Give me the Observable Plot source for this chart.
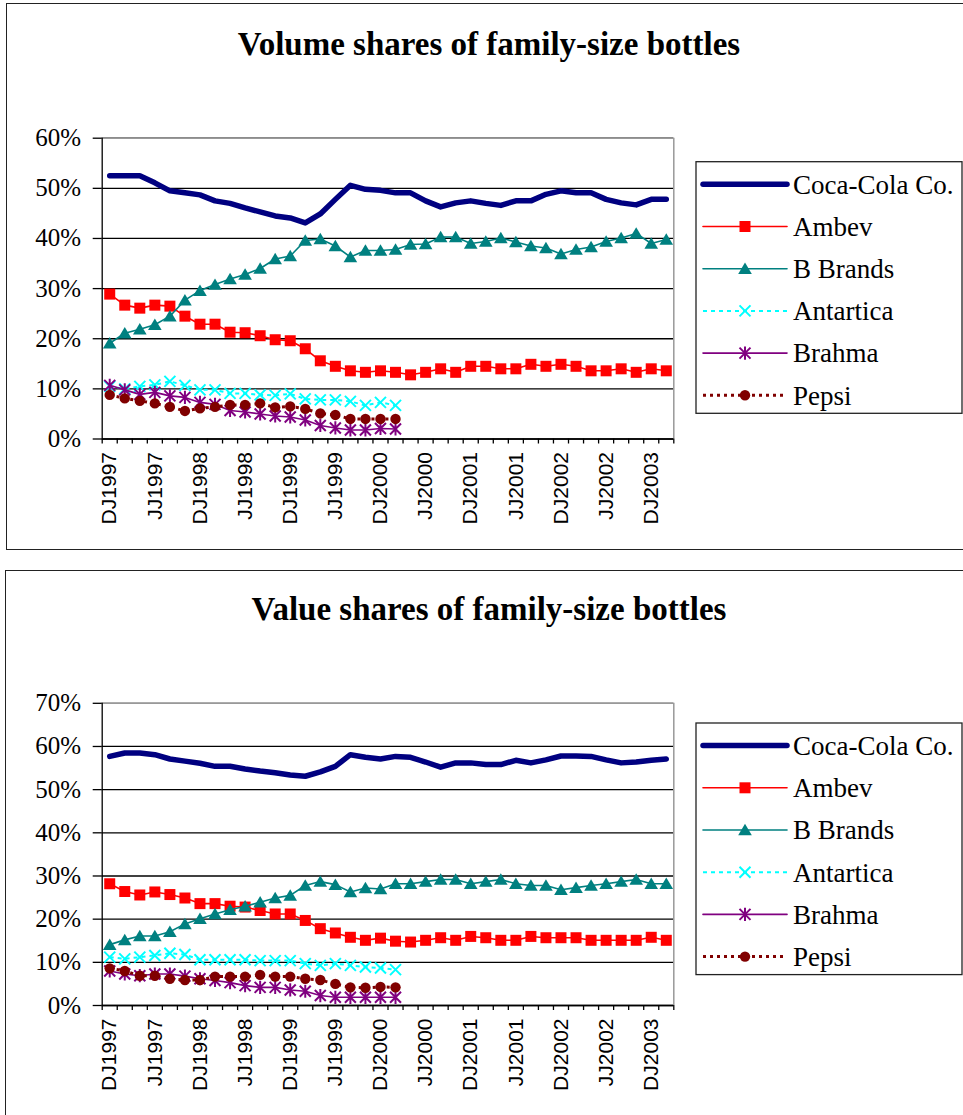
<!DOCTYPE html>
<html>
<head>
<meta charset="utf-8">
<script src="https://cdn.jsdelivr.net/npm/d3@7"></script>
<script src="https://cdn.jsdelivr.net/npm/@observablehq/plot@0.6"></script>
<style>
  html, body { margin: 0; padding: 0; background: #fff; }
  body { width: 963px; height: 1115px; position: relative; overflow: hidden; }
  .panel { position: absolute; border: 1.5px solid #222; background: #fff; box-sizing: border-box; }
  .chart { position: absolute; left: 0; }
  #overlay { position: absolute; left: 0; top: 0; pointer-events: none; }
</style>
</head>
<body>
<div class="panel" style="left:6px;top:3px;width:968px;height:547px;"></div>
<div class="panel" style="left:5px;top:570px;width:968px;height:560px;"></div>
<div id="c1" class="chart" style="top:100px;"></div>
<div id="c2" class="chart" style="top:670px;"></div>
<svg id="overlay" width="963" height="1115"></svg>
<script>
// ---------- data ----------
const categories = [
  "DJ1997","FM1997","AM1997","JJ1997","AS1997","ON1997",
  "DJ1998","FM1998","AM1998","JJ1998","AS1998","ON1998",
  "DJ1999","FM1999","AM1999","JJ1999","AS1999","ON1999",
  "DJ2000","FM2000","AM2000","JJ2000","AS2000","ON2000",
  "DJ2001","FM2001","AM2001","JJ2001","AS2001","ON2001",
  "DJ2002","FM2002","AM2002","JJ2002","AS2002","ON2002",
  "DJ2003","FM2003"
];
const seriesNames = ["Coca-Cola Co.", "Ambev", "B Brands", "Antartica", "Brahma", "Pepsi"];

// Volume shares (%)
const volCoca = [52.5,52.5,52.5,51.1,49.5,49.1,48.7,47.5,47.0,46.1,45.3,44.5,44.1,43.1,44.9,47.8,50.6,49.8,49.6,
                 49.1,49.1,47.5,46.3,47.1,47.5,47.0,46.6,47.5,47.5,48.8,49.5,49.1,49.1,47.8,47.1,46.7,47.8,47.8];
const volAmbev = [28.9,26.7,26.1,26.7,26.5,24.5,22.9,22.9,21.3,21.2,20.6,19.8,19.6,18.0,15.6,14.5,13.6,13.3,13.6,
                  13.3,12.8,13.3,14.0,13.3,14.5,14.5,14.0,14.0,14.9,14.5,14.9,14.5,13.6,13.6,14.0,13.3,14.0,13.6];
const volBBrands = [19.1,21.1,21.9,22.8,24.5,27.7,29.6,30.8,31.9,32.8,34.0,35.9,36.5,39.6,39.9,38.5,36.3,37.6,37.6,
                    37.8,38.8,38.9,40.3,40.3,39.0,39.4,40.1,39.3,38.5,38.1,36.9,37.8,38.3,39.4,40.1,41.0,39.0,39.8];
const volAntartica = [10.5,10.0,10.5,10.8,11.5,10.7,9.8,9.8,9.1,9.1,8.8,8.7,9.0,8.0,7.8,7.8,7.5,6.7,7.3,6.7];
const volBrahma = [10.7,9.8,8.9,9.3,8.6,8.3,7.3,6.9,5.7,5.4,5.0,4.6,4.4,3.8,2.7,2.2,1.8,1.8,2.1,2.0];
const volPepsi = [8.8,8.1,7.6,7.1,6.4,5.6,6.1,6.4,6.8,6.8,7.1,6.3,6.5,6.0,5.1,4.8,4.0,4.0,4.0,4.0];

// Value shares (%)
const valCoca = [57.7,58.5,58.5,58.1,57.1,56.6,56.1,55.4,55.4,54.8,54.3,53.9,53.4,53.1,54.1,55.4,58.1,57.5,57.1,
                 57.7,57.5,56.4,55.2,56.2,56.2,55.8,55.8,56.8,56.2,56.9,57.8,57.8,57.7,56.9,56.2,56.4,56.8,57.1];
const valAmbev = [28.2,26.4,25.6,26.3,25.7,24.9,23.6,23.6,23.0,22.8,22.0,21.2,21.2,19.7,17.8,16.8,15.8,15.1,15.6,
                  14.9,14.7,15.1,15.7,15.1,16.0,15.7,15.1,15.1,16.0,15.7,15.7,15.7,15.1,15.1,15.1,15.1,15.8,15.1];
const valBBrands = [14.1,15.2,16.1,16.1,17.1,18.9,20.1,21.2,22.2,23.0,23.9,24.9,25.5,27.8,28.7,28.0,26.3,27.2,27.0,
                    28.2,28.2,28.7,29.2,29.2,28.2,28.7,29.2,28.2,27.8,27.8,26.8,27.3,27.8,28.2,28.7,29.2,28.2,28.2];
const valAntartica = [11.2,10.8,11.2,11.6,12.1,11.8,10.6,10.6,10.6,10.6,10.4,10.4,10.4,9.7,9.3,9.7,9.3,8.9,8.7,8.3];
const valBrahma = [8.0,7.3,6.9,7.3,7.3,6.8,6.2,5.8,5.3,4.6,4.2,4.2,3.6,3.3,2.3,1.9,1.9,1.9,1.9,1.9];
const valPepsi = [8.6,8.0,6.9,6.9,6.2,5.9,5.9,6.7,6.7,6.7,7.1,6.7,6.7,6.2,5.9,5.0,4.2,4.1,4.3,4.2];

// ---------- marker symbols (Excel-like) ----------
const unit = size => Math.sqrt(size / Math.PI);
const symSquare = { draw(c, size) { const s = unit(size); c.moveTo(-s,-s); c.lineTo(s,-s); c.lineTo(s,s); c.lineTo(-s,s); c.closePath(); } };
const symTriangle = { draw(c, size) { const s = unit(size); c.moveTo(0,-s); c.lineTo(s*1.1,s*0.85); c.lineTo(-s*1.1,s*0.85); c.closePath(); } };
const symTimes = { draw(c, size) { const s = unit(size); c.moveTo(-s,-s); c.lineTo(s,s); c.moveTo(-s,s); c.lineTo(s,-s); } };
const symStar = { draw(c, size) { const s = unit(size); c.moveTo(-s,-s); c.lineTo(s,s); c.moveTo(-s,s); c.lineTo(s,-s); c.moveTo(0,-s*1.2); c.lineTo(0,s*1.2); } };
const symCircle = { draw(c, size) { const s = unit(size); c.moveTo(s,0); c.arc(0,0,s,0,2*Math.PI); } };

const styles = [
  { color: "#000080", width: 5.5, dash: null, symbol: null },
  { color: "#FF0000", width: 1.6, dash: null, symbol: symSquare, r: 5.5, filled: true },
  { color: "#008080", width: 1.6, dash: null, symbol: symTriangle, r: 6.2, filled: true },
  { color: "#00FFFF", width: 2, dash: "4,4", symbol: symTimes, r: 5.5, filled: false },
  { color: "#800080", width: 1.6, dash: null, symbol: symStar, r: 5.5, filled: false },
  { color: "#800000", width: 3, dash: "3,4", symbol: symCircle, r: 5.2, filled: true }
];

const SERIF = "'Liberation Serif', 'DejaVu Serif', serif";
const SANS = "'Liberation Sans', Arial, sans-serif";

function rows(values) { return values.map((v, i) => ({ i, v })); }

function makeChart({ series, yMax, height, marginTop, marginBottom }) {
  const yTicks = d3.range(0, yMax + 1, 10);
  const boundaries = d3.range(categories.length + 1).map(i => i - 0.5);
  const labelTicks = d3.range(0, categories.length, 3);
  const marks = [
    Plot.gridY(yTicks, { stroke: "#000", strokeOpacity: 1, strokeWidth: 1.3 }),
    Plot.ruleY([yMax], { stroke: "#999", strokeWidth: 1.5 }),
    Plot.ruleX([categories.length - 0.5], { stroke: "#999", strokeWidth: 1.5 }),
    Plot.ruleX([-0.5], { stroke: "#000", strokeWidth: 1.3 }),
    Plot.ruleY([0], { stroke: "#000", strokeWidth: 1.3 }),
    Plot.axisY({ ticks: yTicks, tickFormat: d => d + "%", tickSize: 9, tickPadding: 12,
                 fontSize: 25, strokeWidth: 1.3, label: null }),
    Plot.axisX({ ticks: boundaries, tickFormat: () => "", tickSize: 5, strokeWidth: 1.3, label: null }),
    Plot.axisX({ ticks: labelTicks, tickFormat: i => categories[i], tickSize: 0, tickPadding: 13,
                 tickRotate: -90, fontSize: 21, label: null })
  ];
  series.forEach((vals, k) => {
    const st = styles[k];
    const data = rows(vals);
    marks.push(Plot.line(data, { x: "i", y: "v", stroke: st.color, strokeWidth: st.width,
      strokeDasharray: st.dash, strokeLinejoin: "round", strokeLinecap: st.dash ? "butt" : "round" }));
    if (st.symbol) {
      marks.push(Plot.dot(data, { x: "i", y: "v", symbol: st.symbol, r: st.r,
        fill: st.filled ? st.color : "none", stroke: st.filled ? "none" : st.color,
        strokeWidth: st.filled ? 0 : 2 }));
    }
  });
  const svg = Plot.plot({
    width: 690, height, marginLeft: 101.7, marginRight: 690 - 673.3, marginTop, marginBottom,
    x: { type: "linear", domain: [-0.5, categories.length - 0.5], label: null },
    y: { domain: [0, yMax], label: null },
    style: { background: "transparent", overflow: "visible", color: "#000" },
    marks
  });
  d3.select(svg).selectAll('g[aria-label="x-axis tick label"] text').style("font-family", SANS);
  d3.select(svg).selectAll('g[aria-label="y-axis tick label"] text').style("font-family", SERIF);
  return svg;
}

document.getElementById("c1").appendChild(makeChart({
  series: [volCoca, volAmbev, volBBrands, volAntartica, volBrahma, volPepsi],
  yMax: 60, height: 440, marginTop: 37.7, marginBottom: 101.5
}));
document.getElementById("c2").appendChild(makeChart({
  series: [valCoca, valAmbev, valBBrands, valAntartica, valBrahma, valPepsi],
  yMax: 70, height: 445, marginTop: 32.8, marginBottom: 110
}));

// ---------- titles and legends ----------
const ov = d3.select("#overlay");
const titles = [
  { text: "Volume shares of family-size bottles", y: 55 },
  { text: "Value shares of family-size bottles", y: 620 }
];
titles.forEach(t => ov.append("text").attr("x", 489).attr("y", t.y).attr("text-anchor", "middle")
  .style("font-family", SERIF).attr("font-weight", "bold").attr("font-size", 33).text(t.text));

function legend(top) {
  const left = 696, w = 266, h = 251.6;
  const g = ov.append("g");
  g.append("rect").attr("x", left).attr("y", top).attr("width", w).attr("height", h)
    .attr("fill", "#fff").attr("stroke", "#222").attr("stroke-width", 1.3);
  seriesNames.forEach((name, k) => {
    const st = styles[k];
    const cy = top + 22.6 + k * 42.2;
    g.append("line").attr("x1", 703).attr("x2", 787).attr("y1", cy).attr("y2", cy)
      .attr("stroke", st.color).attr("stroke-width", st.width)
      .attr("stroke-dasharray", st.dash).attr("stroke-linecap", st.dash ? "butt" : "round");
    if (st.symbol) {
      const p = d3.path();
      st.symbol.draw(p, st.r * st.r * Math.PI);
      g.append("path").attr("d", p.toString()).attr("transform", `translate(745,${cy})`)
        .attr("fill", st.filled ? st.color : "none").attr("stroke", st.filled ? "none" : st.color)
        .attr("stroke-width", 2);
    }
    g.append("text").attr("x", 793).attr("y", cy + 9.3).style("font-family", SERIF)
      .attr("font-size", 27).text(name);
  });
}
legend(161.7);
legend(723);
</script>
</body>
</html>
